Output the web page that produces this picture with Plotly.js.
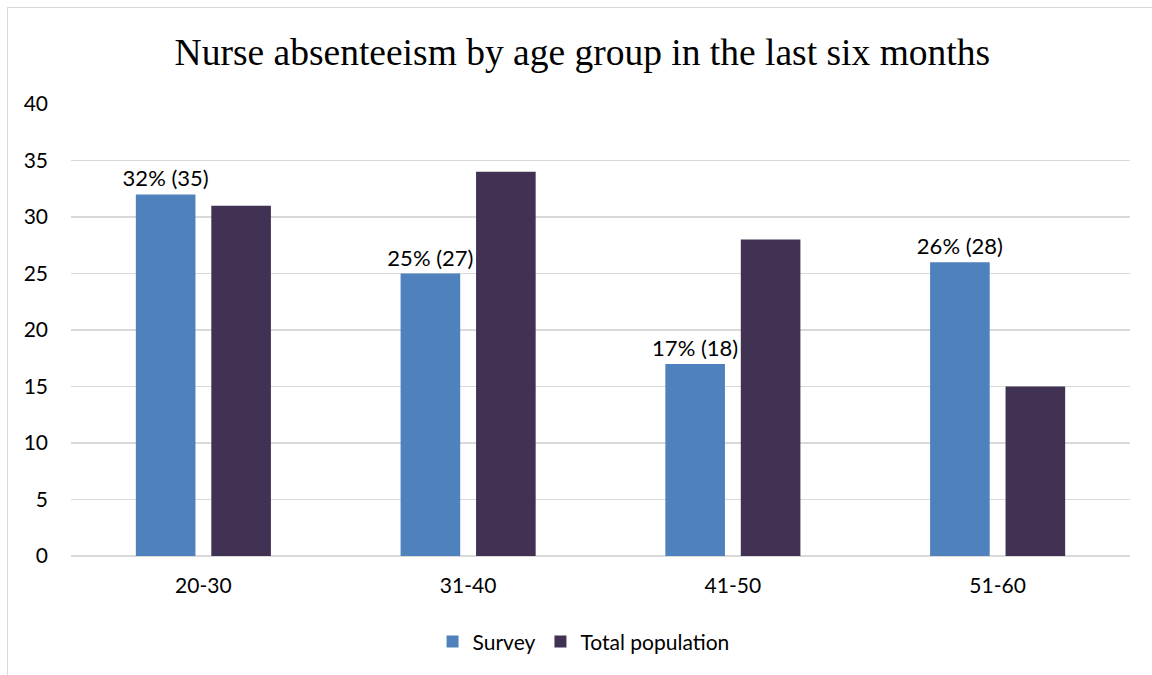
<!DOCTYPE html>
<html>
<head>
<meta charset="utf-8">
<script src="https://cdn.plot.ly/plotly-3.0.1.min.js"></script>
<style>
html,body{margin:0;padding:0;overflow:hidden;background:#fff;}
#chart{width:1152px;height:675px;position:absolute;left:0;top:0;}
#frame{position:absolute;left:7px;top:7px;width:2000px;height:2000px;border:1px solid #d9d9d9;pointer-events:none;}
</style>
</head>
<body>
<div id="chart"></div>
<div id="frame"></div>
<script>
const categories = ["20-30", "31-40", "41-50", "51-60"];
const surveyValues = [32, 25, 17, 26];
const surveyLabels = ["32% (35)", "25% (27)", "17% (18)", "26% (28)"];
const populationValues = [31, 34, 28, 15];
const yTicks = [0, 5, 10, 15, 20, 25, 30, 35, 40];

const sansFont = "Lato, 'Noto Sans', sans-serif";
const textSize = 21;

const traces = [
  {
    type: "bar",
    name: "Survey",
    x: categories,
    y: surveyValues,
    text: surveyLabels,
    textposition: "outside",
    constraintext: "none",
    cliponaxis: false,
    textfont: {family: sansFont, size: 22, color: "#000000"},
    marker: {color: "#4F81BD"},
    hoverinfo: "x+y"
  },
  {
    type: "bar",
    name: "Total population",
    x: categories,
    y: populationValues,
    marker: {color: "#413253"},
    hoverinfo: "x+y"
  }
];

const layout = {
  width: 1152,
  height: 675,
  paper_bgcolor: "rgba(0,0,0,0)",
  plot_bgcolor: "#ffffff",
  margin: {l: 71, r: 22, t: 104, b: 119},
  title: {
    text: "Nurse absenteeism by age group in the last six months",
    font: {family: "'Liberation Serif', 'Times New Roman', serif", size: 37.5, color: "#000000"},
    xref: "container",
    x: 0.5055, xanchor: "center",
    y: 1 - 52/675, yanchor: "middle"
  },
  barmode: "group",
  bargap: 0.43,
  bargroupgap: 0.21,
  showlegend: true,
  legend: {
    orientation: "h",
    x: 0.484, xanchor: "center",
    y: -0.19, yanchor: "middle",
    font: {family: sansFont, size: textSize, color: "#000000"},
    itemwidth: 30,
    traceorder: "normal"
  },
  xaxis: {
    type: "category",
    tickfont: {family: sansFont, size: textSize, color: "#000000"},
    showline: false,
    showgrid: false,
    ticks: "",
    ticklabelstandoff: 15,
    zeroline: false
  },
  yaxis: {
    range: [0, 40],
    tickvals: yTicks,
    tickfont: {family: sansFont, size: textSize, color: "#000000"},
    showgrid: true,
    gridcolor: "#d9d9d9",
    gridwidth: 1.3,
    zeroline: true,
    zerolinecolor: "#d9d9d9",
    zerolinewidth: 1.3,
    ticks: "",
    ticklabelstandoff: 22,
    showline: false
  },
  hovermode: false
};

Plotly.newPlot("chart", traces, layout, {displayModeBar: false, staticPlot: true});
</script>
</body>
</html>
